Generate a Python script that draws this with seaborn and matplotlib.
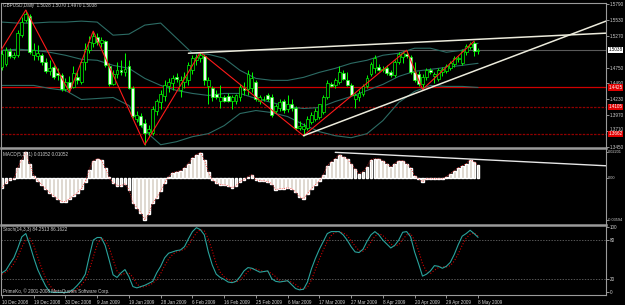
import numpy as np
import matplotlib
matplotlib.use("Agg")
import matplotlib.pyplot as plt
from matplotlib.transforms import blended_transform_factory
import seaborn as sns

# GBPUSD daily candles (bar 0 = 10 Dec 2008, bar 120 = 8 May 2009)
opens = [1.4753, 1.4803, 1.5017, 1.4918, 1.4951, 1.5280, 1.5527, 1.5593, 1.4951, 1.4934,
         1.4951, 1.4836, 1.4688, 1.4753, 1.4655, 1.4622, 1.4391, 1.4507, 1.4424, 1.4589,
         1.4507, 1.4836, 1.5033, 1.5148, 1.5247, 1.5148, 1.5181, 1.4770, 1.4474, 1.4638,
         1.4704, 1.4671, 1.4770, 1.4408, 1.3914, 1.3964, 1.3848, 1.3700, 1.3684, 1.4046,
         1.4178, 1.4276, 1.4441, 1.4490, 1.4589, 1.4375, 1.4507, 1.4540, 1.4704, 1.4869,
         1.4902, 1.4934, 1.4441, 1.4408, 1.4309, 1.4210, 1.4260, 1.4276, 1.4210, 1.4210,
         1.4260, 1.4408, 1.4391, 1.4408, 1.4507, 1.4210, 1.4243, 1.4293, 1.4260, 1.4046,
         1.4095, 1.4194, 1.4079, 1.4145, 1.4095, 1.3766, 1.3750, 1.3766, 1.3865, 1.3914,
         1.3947, 1.4029, 1.4260, 1.4474, 1.4457, 1.4507, 1.4655, 1.4540, 1.4457, 1.4243,
         1.4260, 1.4309, 1.4441, 1.4638, 1.4737, 1.4753, 1.4704, 1.4737, 1.4671, 1.4622,
         1.4836, 1.4918, 1.4967, 1.4918, 1.4671, 1.4638, 1.4474, 1.4589, 1.4704, 1.4605,
         1.4556, 1.4671, 1.4688, 1.4737, 1.4803, 1.4885, 1.4819, 1.5000, 1.5083, 1.5148,
         1.5028]
highs = [1.5033, 1.5083, 1.5066, 1.5000, 1.5362, 1.5576, 1.5691, 1.5626, 1.5148, 1.5116,
         1.4984, 1.4902, 1.4869, 1.4786, 1.4737, 1.4655, 1.4572, 1.4605, 1.4770, 1.4671,
         1.4869, 1.5148, 1.5264, 1.5346, 1.5313, 1.5247, 1.5198, 1.4819, 1.4704, 1.4836,
         1.4869, 1.4984, 1.4869, 1.4441, 1.4046, 1.4013, 1.3914, 1.3816, 1.4128, 1.4243,
         1.4375, 1.4540, 1.4572, 1.4622, 1.4655, 1.4605, 1.4671, 1.4836, 1.4951, 1.4967,
         1.5000, 1.4967, 1.4589, 1.4441, 1.4375, 1.4457, 1.4293, 1.4326, 1.4293, 1.4309,
         1.4474, 1.4507, 1.4704, 1.4671, 1.4540, 1.4293, 1.4276, 1.4326, 1.4309, 1.4161,
         1.4227, 1.4243, 1.4293, 1.4243, 1.4128, 1.3881, 1.3848, 1.3964, 1.4029, 1.4095,
         1.4161, 1.4293, 1.4540, 1.4507, 1.4572, 1.4770, 1.4704, 1.4671, 1.4490, 1.4326,
         1.4375, 1.4474, 1.4622, 1.4836, 1.4951, 1.4803, 1.4770, 1.4786, 1.4704, 1.4869,
         1.5000, 1.5017, 1.5033, 1.4951, 1.4836, 1.4688, 1.4638, 1.4737, 1.4737, 1.4671,
         1.4737, 1.4753, 1.4803, 1.4852, 1.4934, 1.4934, 1.5050, 1.5132, 1.5165, 1.5181,
         1.5070]
lows = [1.4704, 1.4770, 1.4902, 1.4885, 1.4918, 1.5247, 1.5494, 1.4967, 1.4869, 1.4869,
        1.4786, 1.4655, 1.4622, 1.4556, 1.4540, 1.4359, 1.4359, 1.4342, 1.4408, 1.4474,
        1.4474, 1.4704, 1.4984, 1.5083, 1.5116, 1.5083, 1.4753, 1.4441, 1.4457, 1.4572,
        1.4622, 1.4605, 1.4391, 1.3931, 1.3865, 1.3783, 1.3486, 1.3618, 1.3651, 1.3980,
        1.4079, 1.4194, 1.4342, 1.4375, 1.4507, 1.4260, 1.4408, 1.4457, 1.4638, 1.4786,
        1.4836, 1.4457, 1.4161, 1.4210, 1.4227, 1.4095, 1.4178, 1.4178, 1.4079, 1.4161,
        1.4194, 1.4293, 1.4293, 1.4342, 1.4194, 1.4145, 1.4194, 1.4194, 1.3947, 1.4013,
        1.4046, 1.4013, 1.4029, 1.4046, 1.3733, 1.3733, 1.3634, 1.3733, 1.3832, 1.3881,
        1.3914, 1.3997, 1.4227, 1.4424, 1.4408, 1.4474, 1.4540, 1.4441, 1.4276, 1.4095,
        1.4210, 1.4276, 1.4408, 1.4605, 1.4655, 1.4688, 1.4671, 1.4622, 1.4589, 1.4589,
        1.4803, 1.4819, 1.4902, 1.4638, 1.4507, 1.4441, 1.4391, 1.4540, 1.4638, 1.4490,
        1.4523, 1.4605, 1.4655, 1.4704, 1.4753, 1.4836, 1.4786, 1.4951, 1.5050, 1.4934,
        1.4970]
closes = [1.4967, 1.5033, 1.4934, 1.4951, 1.5313, 1.5494, 1.5626, 1.5000, 1.5033, 1.4984,
          1.4836, 1.4688, 1.4737, 1.4589, 1.4622, 1.4391, 1.4507, 1.4408, 1.4655, 1.4540,
          1.4836, 1.5050, 1.5165, 1.5264, 1.5165, 1.5198, 1.4786, 1.4474, 1.4638, 1.4704,
          1.4671, 1.4720, 1.4408, 1.3964, 1.3980, 1.3816, 1.3684, 1.3750, 1.4079, 1.4210,
          1.4309, 1.4457, 1.4507, 1.4572, 1.4556, 1.4540, 1.4589, 1.4786, 1.4902, 1.4918,
          1.4951, 1.4540, 1.4540, 1.4260, 1.4260, 1.4260, 1.4210, 1.4210, 1.4260, 1.4293,
          1.4424, 1.4375, 1.4638, 1.4572, 1.4227, 1.4260, 1.4227, 1.4227, 1.3980, 1.4128,
          1.4178, 1.4062, 1.4161, 1.4095, 1.3766, 1.3799, 1.3799, 1.3914, 1.3980, 1.4046,
          1.4145, 1.4260, 1.4490, 1.4441, 1.4540, 1.4671, 1.4556, 1.4457, 1.4293, 1.4293,
          1.4326, 1.4441, 1.4572, 1.4803, 1.4902, 1.4704, 1.4720, 1.4655, 1.4622, 1.4836,
          1.4967, 1.4984, 1.4934, 1.4671, 1.4540, 1.4474, 1.4589, 1.4704, 1.4671, 1.4638,
          1.4704, 1.4720, 1.4770, 1.4819, 1.4902, 1.4902, 1.5017, 1.5099, 1.5132, 1.5022,
          1.5038]

# Bollinger bands, read every 4th bar
bb_idx = [0, 4, 8, 12, 16, 20, 24, 28, 32, 36, 40, 44, 48, 52, 56, 60,
          64, 68, 72, 76, 80, 84, 88, 92, 96, 100, 104, 108, 112, 116, 120]
bb_upper = [1.5494, 1.5478, 1.5478, 1.5494, 1.5494, 1.5510, 1.5494, 1.5280, 1.5297, 1.5445,
            1.5478, 1.5231, 1.4984, 1.4967, 1.4902, 1.4704, 1.4572, 1.4540, 1.4540, 1.4589,
            1.4671, 1.4737, 1.4819, 1.4869, 1.4951, 1.4984, 1.5066, 1.5066, 1.5000, 1.5033,
            1.5148]
bb_middle = [1.5033, 1.5050, 1.5033, 1.5000, 1.4951, 1.4885, 1.4869, 1.4786, 1.4737, 1.4572,
             1.4457, 1.4375, 1.4326, 1.4293, 1.4326, 1.4326, 1.4243, 1.4178, 1.4112, 1.4079,
             1.4095, 1.4194, 1.4276, 1.4375, 1.4474, 1.4605, 1.4688, 1.4720, 1.4753, 1.4786,
             1.4819]
bb_lower = [1.4457, 1.4457, 1.4457, 1.4408, 1.4375, 1.4227, 1.4243, 1.4260, 1.4128, 1.3717,
            1.3486, 1.3536, 1.3618, 1.3667, 1.3799, 1.3997, 1.4046, 1.4013, 1.3947, 1.3816,
            1.3700, 1.3634, 1.3601, 1.3667, 1.3881, 1.4178, 1.4359, 1.4457, 1.4441, 1.4441,
            1.4424]

# zigzag turning bars (first point is where the line enters at the left edge)
zz_bars = [-0.25, 6, 17, 23, 36, 50, 76, 102, 106, 119]
zz_prices = [1.5033, 1.5691, 1.4342, 1.5346, 1.3486, 1.5000, 1.3634, 1.5033, 1.4391, 1.5181]

# white trend lines (bar, price) end points
upper_trend = ([47, 152.25], [1.4984, 1.5313])
lower_trend = ([76, 152.25], [1.3634, 1.5510])
levels_solid = [1.4425]
levels_dashed = [1.4105, 1.3662]
last_price = 1.5038
price_ticks = [1.3450, 1.3710, 1.3970, 1.4230, 1.4490, 1.4750, 1.5270, 1.5530, 1.5790]

# MACD(5,13,1) histogram (signal period 1, so signal == main)
macd = [-0.0086, -0.0043, -0.0017, -0.0009, 0.0086, 0.0154, 0.0220, 0.0120, 0.0017, -0.0026,
        -0.0060, -0.0094, -0.0128, -0.0154, -0.0180, -0.0205, -0.0205, -0.0180, -0.0154, -0.0128,
        -0.0094, -0.0034, 0.0068, 0.0146, 0.0163, 0.0154, 0.0086, 0.0003, -0.0043, -0.0068,
        -0.0068, -0.0051, -0.0103, -0.0214, -0.0257, -0.0300, -0.0359, -0.0308, -0.0214, -0.0171,
        -0.0111, -0.0043, 0.0009, 0.0043, 0.0051, 0.0060, 0.0086, 0.0120, 0.0171, 0.0197,
        0.0214, 0.0154, 0.0051, -0.0017, -0.0043, -0.0060, -0.0060, -0.0068, -0.0086, -0.0068,
        -0.0034, -0.0017, 0.0009, 0.0026, -0.0017, -0.0026, -0.0026, -0.0034, -0.0051, -0.0103,
        -0.0094, -0.0094, -0.0086, -0.0094, -0.0120, -0.0163, -0.0180, -0.0137, -0.0094, -0.0060,
        -0.0026, 0.0026, 0.0103, 0.0137, 0.0163, 0.0197, 0.0180, 0.0163, 0.0120, 0.0077,
        0.0034, 0.0051, 0.0094, 0.0154, 0.0163, 0.0163, 0.0146, 0.0120, 0.0094, 0.0120,
        0.0146, 0.0146, 0.0120, 0.0086, 0.0017, -0.0009, -0.0034, -0.0009, -0.0009, -0.0009,
        -0.0009, -0.0009, 0.0009, 0.0034, 0.0060, 0.0086, 0.0103, 0.0120, 0.0154, 0.0137,
        0.0105]
macd_trend = ([84, 152.25], [0.0217, 0.0102])
macd_ticks = [0.02201, 0.0, -0.03594]
macd_ticklabels = ["0.02201", "0.00", "-0.03594"]

# Stochastic(14,3,3)
stoch_k = [30, 34, 44, 53, 68, 85, 90, 73, 53, 35, 22, 10, 1, 0, 0, 0, 0, 1, 5, 11,
           18, 28, 55, 80, 84, 84, 72, 50, 27, 23, 30, 35, 24, 9, 7, 9, 11, 14, 17, 30,
           40, 53, 60, 62, 64, 65, 70, 82, 93, 99, 96, 88, 62, 42, 28, 23, 20, 16, 15, 17,
           24, 33, 38, 37, 34, 31, 32, 33, 21, 17, 16, 17, 18, 12, 6, 4, 5, 16, 36, 52,
           66, 78, 90, 93, 93, 93, 88, 80, 70, 62, 61, 66, 78, 88, 93, 88, 80, 74, 68, 72,
           80, 92, 93, 85, 62, 44, 25, 28, 33, 41, 40, 37, 40, 46, 58, 73, 86, 90, 95, 90,
           84.25]
stoch_d = [28, 31, 36, 44, 55, 69, 81, 83, 72, 54, 37, 22, 11, 4, 0, 0, 0, 0, 2, 6,
           11, 19, 34, 54, 73, 83, 80, 69, 50, 33, 27, 29, 30, 23, 13, 8, 9, 11, 14, 20,
           29, 41, 51, 58, 62, 64, 66, 72, 82, 91, 96, 94, 82, 64, 44, 31, 24, 20, 17, 16,
           19, 25, 32, 36, 36, 34, 32, 32, 29, 24, 18, 17, 17, 16, 12, 7, 5, 8, 19, 35,
           51, 65, 78, 87, 92, 93, 91, 87, 79, 71, 64, 63, 68, 77, 86, 90, 87, 81, 74, 71,
           73, 81, 88, 90, 80, 64, 44, 32, 29, 34, 38, 39, 39, 41, 48, 59, 72, 83, 89, 91,
           86.16]

date_labels = ["10 Dec 2008", "19 Dec 2008", "30 Dec 2008", "9 Jan 2009", "19 Jan 2009",
               "28 Jan 2009", "6 Feb 2009", "16 Feb 2009", "25 Feb 2009", "6 Mar 2009",
               "17 Mar 2009", "27 Mar 2009", "8 Apr 2009", "20 Apr 2009", "29 Apr 2009",
               "8 May 2009"]

sns.set_theme(style="dark", rc={"axes.facecolor": "black", "figure.facecolor": "black",
                                "axes.grid": False})
plt.rcParams['font.family'] = ['Liberation Sans', 'DejaVu Sans']

W, H = 625, 305
TXT = '#d0d0d0'
FRAME = '#9a9a9a'
FS = 3.3


def px_rect(x0, y0, x1, y1):
    return [x0 / W, 1 - y1 / H, (x1 - x0) / W, (y1 - y0) / H]


fig = plt.figure(figsize=(6.25, 3.05), dpi=100)
ax1 = fig.add_axes(px_rect(1, 3, 606, 147))
ax2 = fig.add_axes(px_rect(1, 148, 606, 223))
ax3 = fig.add_axes(px_rect(1, 224.5, 606, 295))

for ax in (ax1, ax2, ax3):
    ax.set_facecolor('black')
    ax.set_xlim(-0.25, 152.25)
    ax.yaxis.tick_right()
    ax.tick_params(axis='y', colors=TXT, labelsize=FS, length=2, width=0.5, pad=1, right=True, left=False)
    ax.tick_params(axis='x', bottom=False, labelbottom=False)
    for s in ax.spines.values():
        s.set_color(FRAME)
        s.set_linewidth(0.8)
ax1.spines['bottom'].set_visible(False)
ax2.spines['bottom'].set_visible(False)
ax2.spines['top'].set_linewidth(1.8)
ax3.spines['top'].set_linewidth(1.8)

# ---- main price panel
x = np.arange(len(opens))
o, h, l, c = map(np.array, (opens, highs, lows, closes))
bull = c >= o

ax1.axhline(last_price, color='#5a5a5a', lw=0.8, zorder=1)
for lv in levels_solid:
    ax1.axhline(lv, color='#d00000', lw=0.9, zorder=1)
for lv in levels_dashed:
    ax1.axhline(lv, color='#900000', lw=0.9, ls=(0, (2, 1)), zorder=1)

band_color = '#2c6b64'
for band in (bb_upper, bb_middle, bb_lower):
    sns.lineplot(x=bb_idx, y=band, ax=ax1, color=band_color, lw=0.8, zorder=2)

ax1.vlines(x, l, h, color='#00ff00', lw=0.7, zorder=3)
ax1.bar(x, np.maximum(np.abs(c - o), 0.0004), bottom=np.minimum(o, c), width=0.72,
        color=np.where(bull, 'black', '#eefcee'), edgecolor='#00ff00', linewidth=0.5, zorder=4)

ax1.plot(zz_bars, zz_prices, color='#ff1a1a', lw=0.8, zorder=5)
ax1.plot(*upper_trend, color='#ecebdc', lw=1.1, zorder=5)
ax1.plot(*lower_trend, color='#ecebdc', lw=1.1, zorder=5)

ax1.set_ylim(1.3449, 1.58066)
# 1.3710 sits right above the 1.3662 box, so its label is placed by hand a touch higher
main_ticks = [v for v in price_ticks if v != 1.3710]
ax1.set_yticks(price_ticks)
ax1.set_yticklabels(["" if v == 1.3710 else f"{v:.4f}" for v in price_ticks])

trans = blended_transform_factory(ax1.transAxes, ax1.transData)
ax1.text(1.0063, 1.3738, "1.3710", transform=trans, fontsize=FS, color=TXT,
         va='center', ha='left', clip_on=False)
ax1.text(1.004, last_price, f"{last_price:.4f}", transform=trans, fontsize=FS, color='black',
         va='center', ha='left', clip_on=False,
         bbox=dict(boxstyle='square,pad=0.15', fc='white', ec='none'))
for lv in levels_solid + levels_dashed:
    ax1.text(1.004, lv, f"{lv:.4f}", transform=trans, fontsize=FS, color='white',
             va='center', ha='left', clip_on=False,
             bbox=dict(boxstyle='square,pad=0.15', fc='#e00000', ec='none'))

# ---- MACD panel
ax2.bar(x, macd, width=0.7, color='#d8d0c6', zorder=2)
ax2.plot(x, macd, color='#ff3030', ls=':', lw=0.6, zorder=3)
ax2.plot(*macd_trend, color='#e6e6e6', lw=1.0, zorder=4)
ax2.set_ylim(-0.03878, 0.02542)
ax2.set_yticks(macd_ticks)
ax2.set_yticklabels(macd_ticklabels)
ax2.tick_params(axis='y', labelsize=2.8, length=1.2, pad=0.3)

# ---- Stochastic panel
ax3.axhline(80, color='#7a7a7a', lw=0.5, ls=(0, (2, 2)))
ax3.axhline(20, color='#7a7a7a', lw=0.5, ls=(0, (2, 2)))
sns.lineplot(x=x, y=stoch_d, ax=ax3, color='#d00000', lw=0.8, ls=':', zorder=2)
sns.lineplot(x=x, y=stoch_k, ax=ax3, color='#2aa39c', lw=0.8, zorder=3)
ax3.set_ylim(-3.85, 103.85)
ax3.set_yticks([100, 80, 20, 0])
ax3.set_yticklabels(["100", "80", "20", "0"])
ax3.set_xlim(-0.25, 152.25)
ax3.set_xticks(np.arange(0, 8 * len(date_labels), 8))
ax3.set_xticklabels(date_labels)
ax3.tick_params(axis='x', bottom=True, labelbottom=True, length=2.5, width=0.5,
                colors=TXT, labelsize=FS, pad=0.8, direction='out')
for lbl in ax3.get_xticklabels():
    lbl.set_ha('left')
for ax in (ax1, ax2, ax3):
    ax.set_xlabel('')
    ax.set_ylabel('')

# ---- panel captions
fig.text(3 / W, 1 - 6 / H, "GBPUSD,Daily  1.5028 1.5070 1.4970 1.5038", fontsize=FS, color=TXT, va='center')
fig.text(3 / W, 1 - 154 / H, "MACD(5,13,1) 0.01052 0.01052", fontsize=FS, color=TXT, va='center')
fig.text(3 / W, 1 - 229 / H, "Stoch(14,3,3) 84.2513 86.1622", fontsize=FS, color=TXT, va='center')
fig.text(3 / W, 1 - 291 / H, "PrimeKo, \u00a9 2001-2008 MetaQuotes Software Corp.", fontsize=FS,
         color=TXT, va='center')

fig.savefig("out.png", dpi=100, facecolor='black')
